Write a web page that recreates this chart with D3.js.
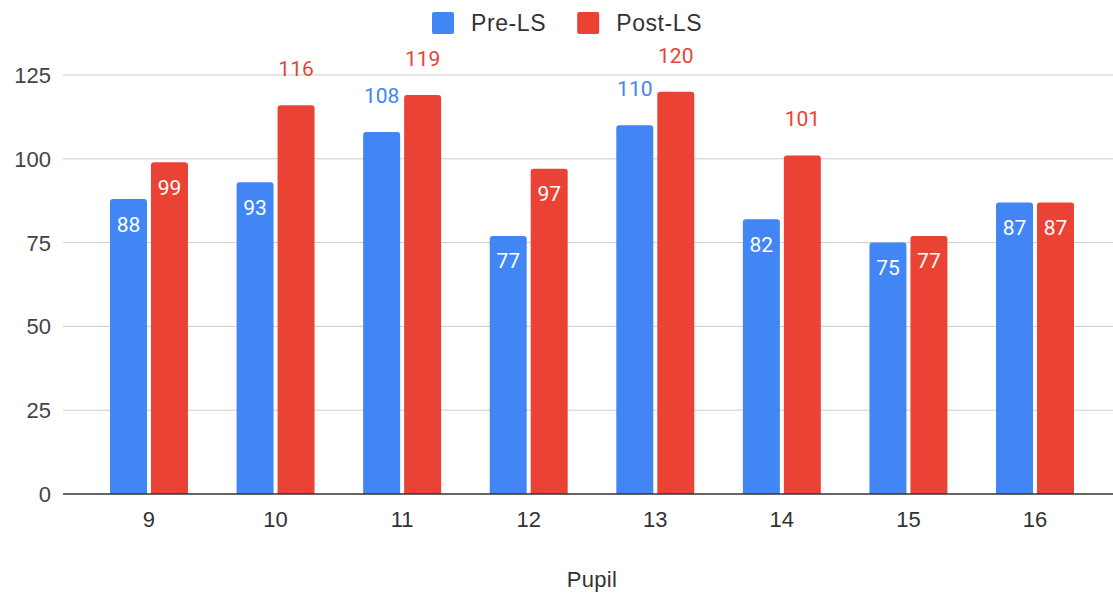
<!DOCTYPE html>
<html>
<head>
<meta charset="utf-8">
<script src="https://cdn.jsdelivr.net/npm/d3@7"></script>
<style>
  html, body { margin: 0; padding: 0; background: #fff; }
  svg { display: block; }
  text { font-family: Roboto, "Noto Sans", Arial, sans-serif; }
  text.ax { font-family: "Liberation Sans", Arial, sans-serif; }
</style>
</head>
<body>
<svg id="chart" width="1113" height="594"></svg>
<script>
const categories = ["9", "10", "11", "12", "13", "14", "15", "16"];
const seriesNames = ["Pre-LS", "Post-LS"];
const preLS = [88, 93, 108, 77, 110, 82, 75, 87];
const postLS = [99, 116, 119, 97, 120, 101, 77, 87];
const yTicks = [0, 25, 50, 75, 100, 125];
const colors = ["#4285F4", "#EA4335"];
const xTitle = "Pupil";

const W = 1113, H = 594;
const svg = d3.select("#chart");
const FS = 21, AX = 22;

const plotLeft = 63, plotRight = 1113;
const y = d3.scaleLinear().domain([0, 125]).range([494, 75]);
const x0 = d3.scaleBand().domain(categories).range([85.7, 1098.3]).paddingInner(0.384).paddingOuter(0.192);
const x1 = d3.scaleBand().domain(seriesNames).range([0, x0.bandwidth()]).paddingInner(4 / 41);

// gridlines
svg.append("g").selectAll("line").data(yTicks.filter(t => t !== 0)).join("line")
  .attr("x1", plotLeft).attr("x2", plotRight)
  .attr("y1", d => y(d)).attr("y2", d => y(d))
  .attr("stroke", "#cccccc").attr("stroke-width", 1);

// y tick labels
svg.append("g").selectAll("text").data(yTicks).join("text")
  .attr("class", "ax")
  .attr("x", 51).attr("y", d => y(d)).attr("dy", "0.36em")
  .attr("text-anchor", "end").attr("font-size", AX).attr("fill", "#444")
  .text(d => d);

const data = categories.map((c, i) => ({ cat: c, vals: [preLS[i], postLS[i]] }));

function barPath(x, w, yTop, yBot, r) {
  r = Math.min(r, w / 2, yBot - yTop);
  return `M${x},${yBot}V${yTop + r}Q${x},${yTop} ${x + r},${yTop}H${x + w - r}Q${x + w},${yTop} ${x + w},${yTop + r}V${yBot}Z`;
}

const groups = svg.append("g").selectAll("g").data(data).join("g")
  .attr("transform", d => `translate(${x0(d.cat)},0)`);

groups.selectAll("path").data(d => d.vals.map((v, k) => ({ v, k }))).join("path")
  .attr("d", d => barPath(x1(seriesNames[d.k]), x1.bandwidth(), y(d.v), y(0), 3))
  .attr("fill", d => colors[d.k]);

groups.selectAll("text").data(d => d.vals.map((v, k) => ({ v, k }))).join("text")
  .attr("x", d => x1(seriesNames[d.k]) + x1.bandwidth() / 2)
  .attr("y", d => d.v > 100 ? y(d.v) - 29 : y(d.v) + 32.5)
  .attr("text-anchor", "middle").attr("font-size", FS)
  .attr("fill", d => d.v > 100 ? colors[d.k] : "#ffffff")
  .text(d => d.v);

// x axis baseline
svg.append("line").attr("x1", plotLeft).attr("x2", plotRight)
  .attr("y1", y(0)).attr("y2", y(0)).attr("stroke", "#333").attr("stroke-width", 1.3);

// x tick labels
svg.append("g").selectAll("text").data(categories).join("text")
  .attr("class", "ax")
  .attr("x", d => x0(d) + x0.bandwidth() / 2).attr("y", 527)
  .attr("text-anchor", "middle").attr("font-size", AX).attr("fill", "#333")
  .text(d => d);

// x title
svg.append("text").attr("class", "ax").attr("x", 592).attr("y", 587).attr("text-anchor", "middle")
  .attr("font-size", AX).attr("letter-spacing", 0.3).attr("fill", "#333").text(xTitle);

// legend
const lg = svg.append("g");
let lx = 432;
seriesNames.forEach((name, k) => {
  lg.append("rect").attr("x", lx).attr("y", 12).attr("width", 22).attr("height", 22)
    .attr("rx", 2).attr("fill", colors[k]);
  const t = lg.append("text").attr("class", "ax").attr("x", lx + 39).attr("y", 31).attr("font-size", 23)
    .attr("letter-spacing", 0.6).attr("fill", "#333").text(name);
  lx = lx + 39 + t.node().getComputedTextLength() + 31;
});
</script>
</body>
</html>
